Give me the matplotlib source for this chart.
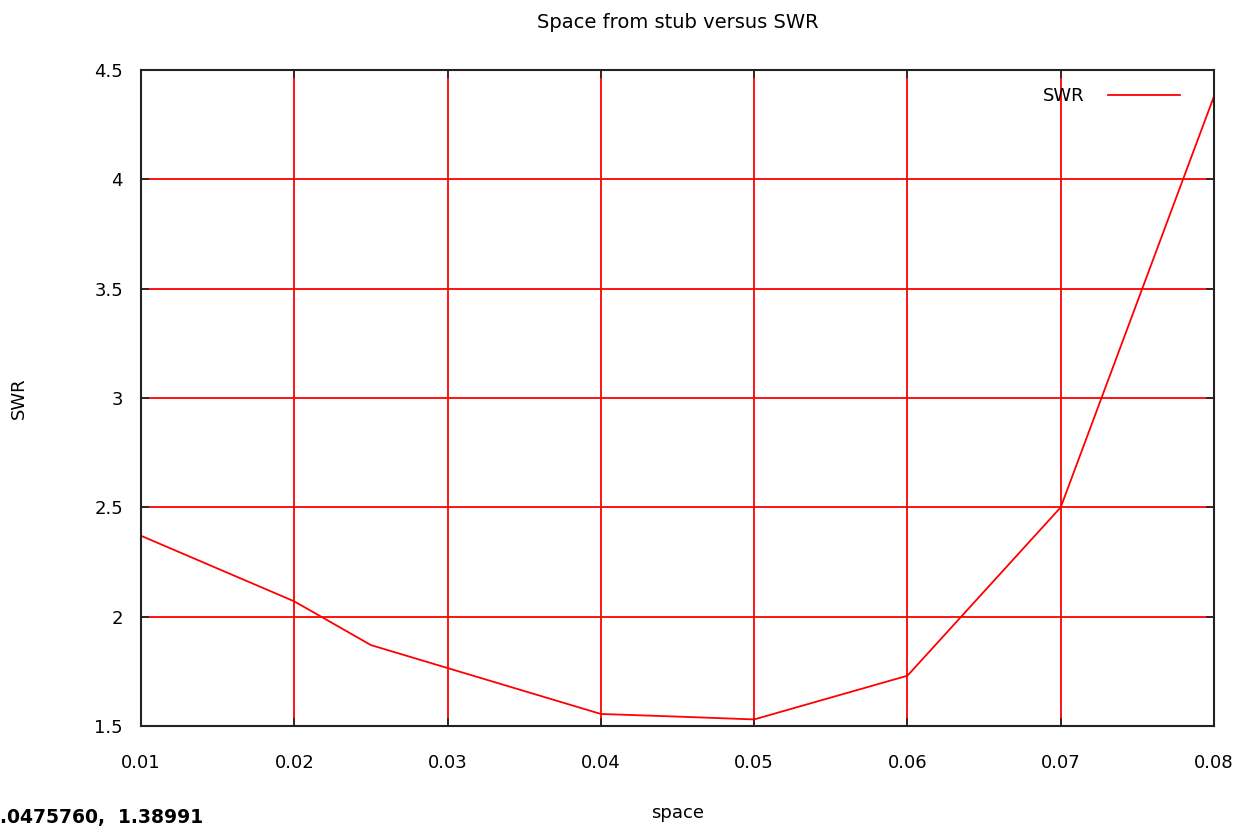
import matplotlib
matplotlib.use('Agg')
import matplotlib.pyplot as plt

# datos
space = [0.01, 0.02, 0.025, 0.03, 0.04, 0.045, 0.05, 0.06, 0.07, 0.08]
swr = [2.37, 2.07, 1.87, 1.765, 1.555, 1.543, 1.53, 1.73, 2.5, 4.38]
xticks = [0.01, 0.02, 0.03, 0.04, 0.05, 0.06, 0.07, 0.08]
yticks = [1.5, 2, 2.5, 3, 3.5, 4, 4.5]

plt.rcParams['font.family'] = ['DejaVu Sans']

fig = plt.figure(figsize=(12.56, 8.32), dpi=100)
ax = fig.add_axes([141 / 1256, 1 - 726 / 832, (1214 - 141) / 1256, (726 - 70) / 832])

ax.plot(space, swr, color='#ff0000', linewidth=1.3, label='SWR')
ax.set_xlim(0.01, 0.08)
ax.set_ylim(1.5, 4.5)
ax.set_xticks(xticks)
ax.set_xticklabels([f'{t:.2f}' for t in xticks])
ax.set_yticks(yticks)
ax.set_yticklabels([f'{t:g}' for t in yticks])
ax.grid(True, color='#ff0000', linewidth=1.3)
ax.set_axisbelow(True)

for s in ax.spines.values():
    s.set_color('#222222')
    s.set_linewidth(1.5)
ax.tick_params(direction='in', length=6, width=1.2, color='#222222',
               top=True, right=True, labelsize=13)
ax.tick_params(axis='x', pad=20)
ax.tick_params(axis='y', pad=13)

ax.set_title('Space from stub versus SWR', fontsize=14, pad=30)
ax.set_xlabel('space', fontsize=13)
ax.xaxis.set_label_coords(0.5, (726 - 804) / 656)
ax.set_ylabel('SWR', fontsize=13)
ax.yaxis.set_label_coords((28 - 141) / 1073, 0.5)

leg = ax.legend(loc='upper right', frameon=False, fontsize=13, markerfirst=False,
                handlelength=4.0, handletextpad=1.3, borderpad=0, borderaxespad=0,
                bbox_to_anchor=((1180 - 141) / 1073, (726 - 87) / 656))

fig.text(0.0, 1 - 818 / 832, '.0475760,  1.38991', fontsize=13.5, fontweight='bold',
         va='center', ha='left')

fig.savefig('out.png', dpi=100, facecolor='white')
